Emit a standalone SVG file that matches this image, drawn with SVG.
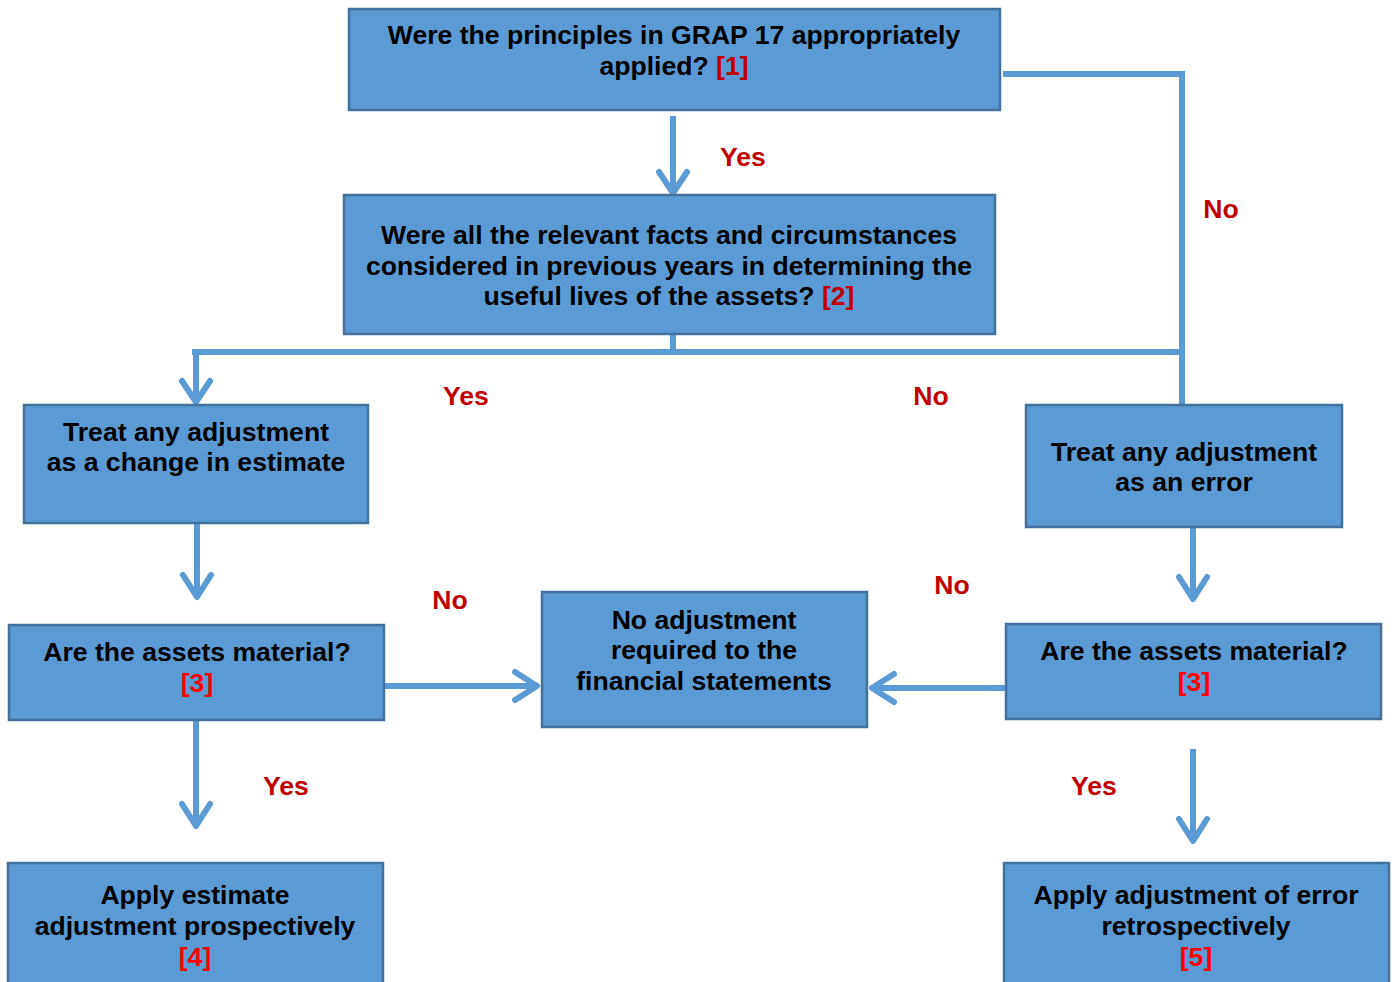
<svg xmlns="http://www.w3.org/2000/svg" width="1395" height="982" viewBox="0 0 1395 982">
<style>
.box{fill:#5B9BD5;stroke:#41719C;stroke-width:2.5}
.t{font-family:"Liberation Sans",Arial,sans-serif;font-weight:bold;font-size:26.6px;fill:#000;text-anchor:middle}
.r1{fill:#C00000}
.r2{fill:#FF0000}
.lbl{font-family:"Liberation Sans",Arial,sans-serif;font-weight:bold;font-size:26.6px;fill:#C00000;text-anchor:middle}
.ln{fill:none;stroke:#5B9BD5;stroke-width:6}
.ah{fill:none;stroke:#5B9BD5;stroke-width:6;stroke-linecap:round;stroke-linejoin:round}
</style>
<rect width="1395" height="982" fill="#fff"/>
<g id="connectors">
<path class="ln" d="M673 116V192"/>
<path class="ah" d="M659 172L673 193L687 172"/>
<path class="ln" d="M1003 74H1182V405"/>
<path class="ln" d="M673 334V352M192 352H1182"/>
<path class="ln" d="M196 352V402"/>
<path class="ah" d="M182 381L196 402L210 381"/>
<path class="ln" d="M197 523V597"/>
<path class="ah" d="M183 575L197 597L211 575"/>
<path class="ln" d="M1193 527V599"/>
<path class="ah" d="M1179 577L1193 599L1207 577"/>
<path class="ln" d="M384 686H537"/>
<path class="ah" d="M515 672L537 686L515 700"/>
<path class="ln" d="M1006 688H872"/>
<path class="ah" d="M894 674L872 688L894 702"/>
<path class="ln" d="M196 720V826"/>
<path class="ah" d="M182 804L196 826L210 804"/>
<path class="ln" d="M1193 749V841"/>
<path class="ah" d="M1179 819L1193 841L1207 819"/>
</g>
<g id="labels">
<text class="lbl" x="743" y="166">Yes</text>
<text class="lbl" x="1221" y="218">No</text>
<text class="lbl" x="466" y="405">Yes</text>
<text class="lbl" x="931" y="405">No</text>
<text class="lbl" x="450" y="609">No</text>
<text class="lbl" x="952" y="594">No</text>
<text class="lbl" x="286" y="795">Yes</text>
<text class="lbl" x="1094" y="795">Yes</text>
</g>
<g id="n1">
<rect class="box" x="349" y="9" width="651" height="101"/>
<text class="t" x="674" y="44">Were the principles in GRAP 17 appropriately</text>
<text class="t" x="674" y="75">applied? <tspan class="r1">[1]</tspan></text>
</g>
<g id="n2">
<rect class="box" x="344" y="195" width="651" height="139"/>
<text class="t" x="669" y="244">Were all the relevant facts and circumstances</text>
<text class="t" x="669" y="275">considered in previous years in determining the</text>
<text class="t" x="669" y="305">useful lives of the assets? <tspan class="r1">[2]</tspan></text>
</g>
<g id="n3">
<rect class="box" x="24" y="405" width="344" height="118"/>
<text class="t" x="196" y="441">Treat any adjustment</text>
<text class="t" x="196" y="471">as a change in estimate</text>
</g>
<g id="n4">
<rect class="box" x="1026" y="405" width="316" height="122"/>
<text class="t" x="1184" y="461">Treat any adjustment</text>
<text class="t" x="1184" y="491">as an error</text>
</g>
<g id="n5">
<rect class="box" x="9" y="625" width="375" height="95"/>
<text class="t" x="197" y="661">Are the assets material?</text>
<text class="t r2" x="197" y="692">[3]</text>
</g>
<g id="n6">
<rect class="box" x="542" y="592" width="325" height="135"/>
<text class="t" x="704" y="629">No adjustment</text>
<text class="t" x="704" y="659">required to the</text>
<text class="t" x="704" y="690">financial statements</text>
</g>
<g id="n7">
<rect class="box" x="1006" y="624" width="375" height="95"/>
<text class="t" x="1194" y="660">Are the assets material?</text>
<text class="t r2" x="1194" y="691">[3]</text>
</g>
<g id="n8">
<rect class="box" x="8" y="863" width="375" height="130"/>
<text class="t" x="195" y="904">Apply estimate</text>
<text class="t" x="195" y="935">adjustment prospectively</text>
<text class="t r2" x="195" y="966">[4]</text>
</g>
<g id="n9">
<rect class="box" x="1004" y="863" width="385" height="130"/>
<text class="t" x="1196" y="904">Apply adjustment of error</text>
<text class="t" x="1196" y="935">retrospectively</text>
<text class="t r2" x="1196" y="966">[5]</text>
</g>
</svg>
